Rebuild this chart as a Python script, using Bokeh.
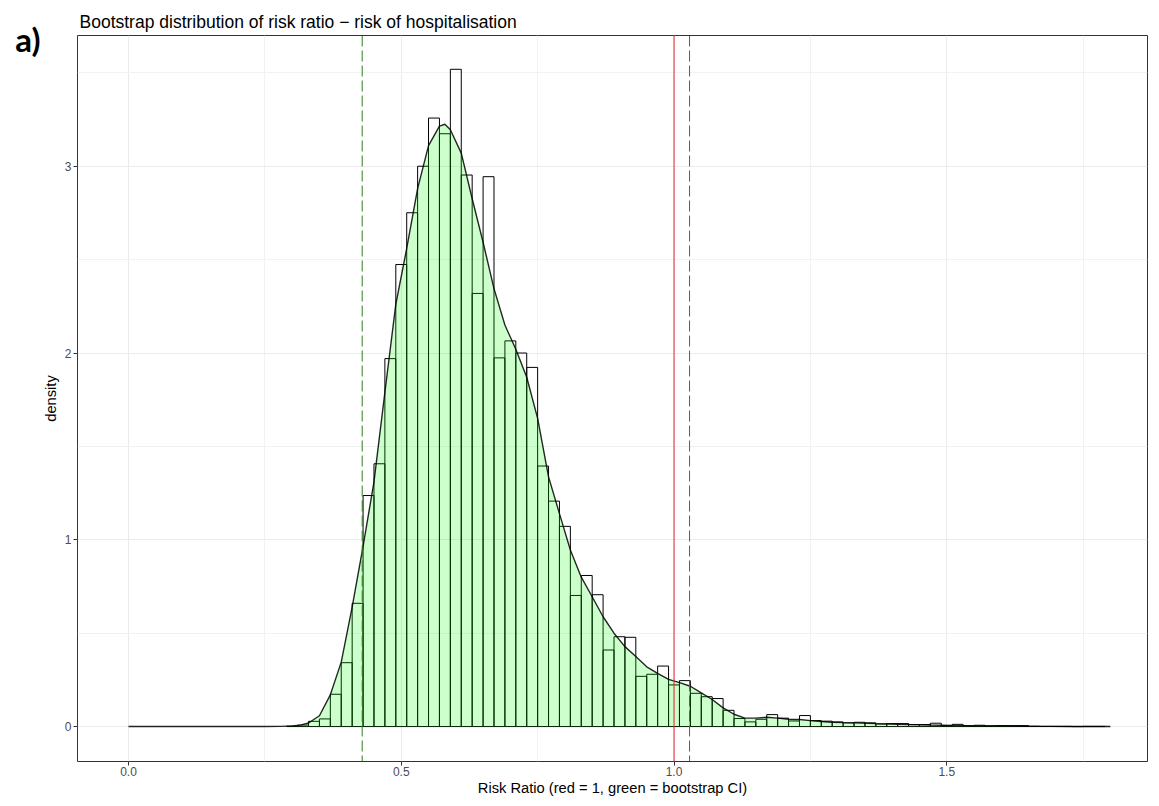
from bokeh.plotting import figure
from bokeh.models import Range1d, FixedTicker, Span, LinearAxis
from bokeh.embed import file_html
from bokeh.resources import INLINE

# ---- data ----
bin_left = [0.29, 0.31, 0.33, 0.35, 0.37, 0.39, 0.41, 0.43, 0.45, 0.47, 0.49, 0.51, 0.53, 0.55,
            0.57, 0.59, 0.61, 0.63, 0.65, 0.67, 0.69, 0.71, 0.73, 0.75, 0.77, 0.79, 0.81, 0.83,
            0.85, 0.87, 0.89, 0.91, 0.93, 0.95, 0.97, 0.99, 1.01, 1.03, 1.05, 1.07, 1.09, 1.11,
            1.13, 1.15, 1.17, 1.19, 1.21, 1.23, 1.25, 1.27, 1.29, 1.31, 1.33, 1.35, 1.37, 1.39,
            1.41, 1.43, 1.45, 1.47, 1.49, 1.51, 1.53, 1.55, 1.57, 1.59, 1.61, 1.63, 1.65, 1.67,
            1.69, 1.71, 1.73, 1.75, 1.77]
bin_density = [0.002, 0.008, 0.028, 0.041, 0.173, 0.342, 0.660, 1.237, 1.407, 1.970, 2.474, 2.751,
               3.000, 3.258, 3.174, 3.519, 2.953, 2.319, 2.944, 1.974, 2.065, 2.000, 1.923, 1.395,
               1.207, 1.072, 0.702, 0.809, 0.706, 0.410, 0.481, 0.478, 0.269, 0.280, 0.324, 0.223,
               0.246, 0.178, 0.160, 0.150, 0.087, 0.043, 0.025, 0.039, 0.064, 0.045, 0.030, 0.059,
               0.032, 0.029, 0.025, 0.020, 0.023, 0.020, 0.014, 0.016, 0.016, 0.011, 0.011, 0.018,
               0.005, 0.012, 0.004, 0.007, 0.004, 0.005, 0.005, 0.005, 0.002, 0.001, 0.001, 0.001,
               0.000, 0.001, 0.001]
bin_width = 0.02

kde_x = [0.0, 0.05, 0.10, 0.15, 0.20, 0.25, 0.28, 0.30, 0.315, 0.33, 0.35, 0.37, 0.39, 0.41,
         0.43, 0.45, 0.47, 0.49, 0.51, 0.53, 0.55, 0.57, 0.58, 0.59, 0.61, 0.63, 0.65, 0.67,
         0.69, 0.71, 0.73, 0.75, 0.77, 0.79, 0.81, 0.83, 0.85, 0.87, 0.89, 0.91, 0.93, 0.95,
         0.97, 0.99, 1.01, 1.03, 1.05, 1.07, 1.09, 1.11, 1.13, 1.15, 1.17, 1.19, 1.21, 1.23,
         1.25, 1.27, 1.29, 1.31, 1.33, 1.37, 1.41, 1.45, 1.49, 1.53, 1.57, 1.61, 1.65, 1.69,
         1.73, 1.80]
kde_y = [0.0, 0.0, 0.0, 0.0, 0.0, 0.0, 0.001, 0.004, 0.008, 0.019, 0.058, 0.170, 0.345, 0.640,
         0.965, 1.310, 1.790, 2.260, 2.560, 2.880, 3.110, 3.215, 3.225, 3.195, 3.070, 2.826,
         2.593, 2.345, 2.150, 2.020, 1.870, 1.650, 1.337, 1.140, 0.945, 0.800, 0.695, 0.588,
         0.500, 0.428, 0.375, 0.320, 0.285, 0.253, 0.235, 0.216, 0.180, 0.145, 0.100, 0.066,
         0.045, 0.045, 0.050, 0.045, 0.039, 0.038, 0.032, 0.027, 0.023, 0.021, 0.020, 0.016,
         0.0125, 0.009, 0.007, 0.005, 0.0035, 0.0035, 0.002, 0.001, 0.0005, 0.0]

ci_lower = 0.4284
ci_upper = 1.0285
null_value = 1.0

x_ticks = [0.0, 0.5, 1.0, 1.5]
x_tick_labels = {0.0: "0.0", 0.5: "0.5", 1.0: "1.0", 1.5: "1.5"}
y_ticks = [0, 1, 2, 3]

title_text = "Bootstrap distribution of risk ratio \u2212 risk of hospitalisation"
x_label = "Risk Ratio (red = 1, green = bootstrap CI)"
y_label = "density"
panel_tag = "a)"

FONT = "Liberation Sans"
X0, X1 = -0.0935, 1.868
Y0, Y1 = -0.187, 3.70
W, H = 1151, 798
BL, BR, BT, BB = 77, 4, 35, 36

p = figure(width=W, height=H, output_backend="svg", toolbar_location=None,
           x_range=Range1d(X0, X1), y_range=Range1d(Y0, Y1),
           min_border_left=BL, min_border_right=BR, min_border_top=BT, min_border_bottom=BB,
           title=title_text)

p.title.text_font = FONT
p.title.text_font_size = "17.5px"
p.title.text_font_style = "normal"
p.title.text_color = "black"
p.title.align = "left"
p.title.offset = 2
p.title.standoff = 8

p.background_fill_color = "white"
p.border_fill_color = "white"
p.outline_line_color = "#333333"
p.outline_line_width = 1

for ax in (p.xaxis[0], p.yaxis[0]):
    ax.axis_line_color = None
    ax.major_tick_line_color = "#333333"
    ax.major_tick_out = 4
    ax.major_tick_in = 0
    ax.minor_tick_line_color = None
    ax.major_label_text_font = FONT
    ax.major_label_text_font_size = "12px"
    ax.major_label_text_color = "#4D4D4D"
    ax.axis_label_text_font = FONT
    ax.axis_label_text_font_size = "14.7px"
    ax.axis_label_text_font_style = "normal"
    ax.axis_label_text_color = "black"

p.xaxis.ticker = FixedTicker(ticks=x_ticks, minor_ticks=[0.25, 0.75, 1.25, 1.75])
p.xaxis.major_label_overrides = x_tick_labels
p.yaxis.ticker = FixedTicker(ticks=y_ticks, minor_ticks=[0.5, 1.5, 2.5, 3.5])
p.xaxis.axis_label = x_label
p.yaxis.axis_label = y_label
p.xaxis.major_label_standoff = 1
p.yaxis.major_label_standoff = 2
p.xaxis.axis_label_standoff = 1
p.yaxis.axis_label_standoff = 3

for g in (p.xgrid[0], p.ygrid[0]):
    g.grid_line_color = "#EBEBEB"
    g.grid_line_width = 1
    g.minor_grid_line_color = "#F2F2F2"
    g.minor_grid_line_width = 1

# histogram outlines
rights = [l + bin_width for l in bin_left]
p.quad(left=bin_left, right=rights, bottom=0, top=bin_density,
       fill_color=None, line_color="black", line_width=1)

# density fill (semi-transparent green, over the bars)
p.varea(x=kde_x, y1=0, y2=kde_y, fill_color="#00FF00", fill_alpha=0.2)
p.line(kde_x, kde_y, line_color="black", line_width=1.4, line_alpha=0.85)

# reference lines
p.add_layout(Span(location=null_value, dimension="height", line_color="#EE2222", line_width=1))
for loc in (ci_lower, ci_upper):
    p.add_layout(Span(location=loc, dimension="height", line_color="#2F7F1F",
                      line_width=1, line_dash="11 4"))

# panel tag "a)": an extra, unlined left axis carrying one label near the frame top
px_per_y = (H - BT - BB) / (Y1 - Y0)
tag_y = Y1 - 4 / px_per_y
tag_axis = LinearAxis(ticker=FixedTicker(ticks=[tag_y]),
                      major_label_overrides={tag_y: panel_tag})
tag_axis.axis_line_color = None
tag_axis.major_tick_line_color = None
tag_axis.minor_tick_line_color = None
tag_axis.major_label_text_font = "Lato"
tag_axis.major_label_text_font_style = "bold"
tag_axis.major_label_text_font_size = "33px"
tag_axis.major_label_text_color = "black"
tag_axis.major_label_standoff = -7
p.add_layout(tag_axis, "left")

open("out.html", "w").write(file_html(p, INLINE))
